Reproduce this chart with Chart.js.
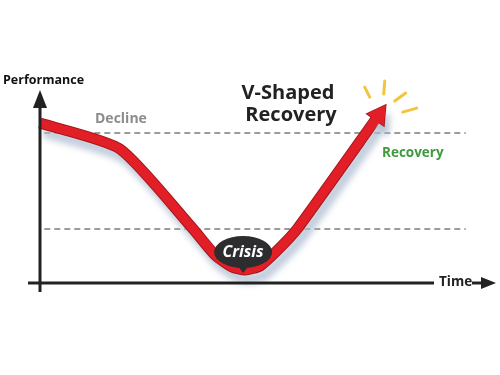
<!DOCTYPE html>
<html>
<head>
<meta charset="utf-8">
<title>V-Shaped Recovery</title>
<script src="https://cdn.jsdelivr.net/npm/chart.js@4"></script>
<style>
  html, body { margin: 0; padding: 0; background: #fff; }
  #wrap { width: 500px; height: 375px; }
</style>
</head>
<body>
<div id="wrap"><canvas id="chart" width="500" height="375"></canvas></div>
<script>
// performance over time (0-100 on both axes)
const timeValues = [0, 18.6, 35.6, 40.7, 44.7, 47.7, 51.2, 55.3, 59.8, 78.8];
const performance = [78.8, 66.0, 26.6, 13.8, 7.9, 6.4, 8.4, 16.3, 26.6, 82.8];
const referenceLevels = [73.9, 26.6];
const referenceSpan = [1, 99];
const crisisIndex = 5;

const lastIndex = performance.length - 1;
const curve = timeValues.map((t, i) => ({ x: t, y: performance[i] }));
const arrowAngle = 35;
const font = "'Open Sans', 'DejaVu Sans', sans-serif";

function refLine(level) {
    return {
        data: referenceSpan.map(x => ({ x: x, y: level })),
        borderColor: '#9c9c9c',
        borderWidth: 2,
        borderDash: [6, 4],
        pointRadius: 0,
        order: 3
    };
}

const shadowPlugin = {
    id: 'shadow',
    beforeDatasetDraw(chart, args) {
        if (args.index !== 1) return;
        const ctx = chart.ctx;
        ctx.save();
        ctx.shadowColor = 'rgba(175, 188, 208, 0.75)';
        ctx.shadowOffsetX = 4;
        ctx.shadowOffsetY = 9;
        ctx.shadowBlur = 6;
    },
    afterDatasetDraw(chart, args) {
        if (args.index !== 1) return;
        chart.ctx.restore();
    }
};

const decorPlugin = {
    id: 'decor',
    afterDatasetsDraw(chart) {
        const ctx = chart.ctx;
        const x = chart.scales.x, y = chart.scales.y;
        const x0 = x.getPixelForValue(0);
        const y0 = y.getPixelForValue(0);
        ctx.save();
        ctx.strokeStyle = '#222';
        ctx.fillStyle = '#222';
        ctx.lineWidth = 3;
        // y axis
        ctx.beginPath();
        ctx.moveTo(x0, y0 + 9);
        ctx.lineTo(x0, chart.chartArea.top + 24);
        ctx.stroke();
        ctx.beginPath();
        ctx.moveTo(x0, chart.chartArea.top + 10);
        ctx.lineTo(x0 - 7, chart.chartArea.top + 28);
        ctx.lineTo(x0 + 7, chart.chartArea.top + 28);
        ctx.closePath();
        ctx.fill();
        // x axis
        ctx.beginPath();
        ctx.moveTo(x0 - 12, y0);
        ctx.lineTo(434, y0);
        ctx.stroke();
        ctx.font = 'bold 13.5px ' + font;
        ctx.textBaseline = 'middle';
        ctx.textAlign = 'left';
        ctx.fillText('Time', 439, y0 - 1);
        ctx.beginPath();
        ctx.moveTo(472, y0);
        ctx.lineTo(484, y0);
        ctx.stroke();
        ctx.beginPath();
        ctx.moveTo(496, y0);
        ctx.lineTo(481, y0 - 6);
        ctx.lineTo(481, y0 + 6);
        ctx.closePath();
        ctx.fill();

        // crisis bubble at the lowest point
        const bx = x.getPixelForValue(timeValues[crisisIndex]) - 2;
        const by = y.getPixelForValue(performance[crisisIndex]) - 18;
        ctx.fillStyle = '#2d2d2f';
        ctx.beginPath();
        ctx.ellipse(bx, by, 29, 16, 0, 0, Math.PI * 2);
        ctx.fill();
        ctx.beginPath();
        ctx.moveTo(bx - 7, by + 12);
        ctx.lineTo(bx, by + 21);
        ctx.lineTo(bx + 7, by + 12);
        ctx.fill();
        ctx.fillStyle = '#fff';
        ctx.textAlign = 'center';
        ctx.font = 'italic bold 16px ' + font;
        ctx.fillText('Crisis', bx, by);

        // sparks round the arrow tip
        const r = Math.PI / 180 * arrowAngle;
        const tx = x.getPixelForValue(timeValues[lastIndex]) + 12 * Math.sin(r);
        const ty = y.getPixelForValue(performance[lastIndex]) - 12 * Math.cos(r);
        ctx.strokeStyle = '#f3c53f';
        ctx.lineWidth = 3;
        ctx.lineCap = 'round';
        [[-21, -18, -16, -8], [-1, -24, -2, -11], [9, -4, 20, -12], [17, 7, 31, 3]].forEach(s => {
            ctx.beginPath();
            ctx.moveTo(tx + s[0], ty + s[1]);
            ctx.lineTo(tx + s[2], ty + s[3]);
            ctx.stroke();
        });
        ctx.restore();
    },
    afterDraw(chart) {
        const ctx = chart.ctx;
        ctx.save();
        ctx.textBaseline = 'middle';
        ctx.textAlign = 'left';
        ctx.fillStyle = '#111';
        ctx.font = 'bold 12.5px ' + font;
        ctx.fillText('Performance', 3, 80);
        ctx.fillStyle = '#8c8c8c';
        ctx.font = 'bold 14px ' + font;
        ctx.fillText('Decline', 95, 119);
        ctx.fillStyle = '#3d9a3f';
        ctx.font = 'bold 13.5px ' + font;
        ctx.fillText('Recovery', 382, 153);
        ctx.fillStyle = '#222';
        ctx.textAlign = 'center';
        ctx.font = 'bold 20px ' + font;
        ctx.fillText('V-Shaped', 288, 93);
        ctx.fillText('Recovery', 291, 115);
        ctx.restore();
    }
};

new Chart(document.getElementById('chart'), {
    type: 'line',
    data: {
        datasets: [
            {
                data: curve,
                borderColor: '#e21f26',
                borderWidth: 9,
                borderJoinStyle: 'round',
                tension: 0.2,
                clip: false,
                pointStyle: 'triangle',
                pointRotation: arrowAngle,
                pointRadius: c => c.dataIndex === lastIndex ? 12 : 0,
                pointBackgroundColor: '#e21f26',
                pointBorderWidth: 0,
                order: 0
            },
            {
                data: curve,
                borderColor: '#a5161c',
                borderWidth: 11,
                borderJoinStyle: 'round',
                tension: 0.2,
                clip: false,
                pointStyle: 'triangle',
                pointRotation: arrowAngle,
                pointRadius: c => c.dataIndex === lastIndex ? 13.5 : 0,
                pointBackgroundColor: '#a5161c',
                pointBorderWidth: 0,
                order: 1
            },
            refLine(referenceLevels[0]),
            refLine(referenceLevels[1])
        ]
    },
    options: {
        responsive: false,
        animation: false,
        layout: { padding: { left: 40, right: 30, top: 80, bottom: 92 } },
        scales: {
            x: { type: 'linear', min: 0, max: 100, display: false },
            y: { min: 0, max: 100, display: false }
        },
        plugins: {
            legend: { display: false },
            tooltip: { enabled: false }
        }
    },
    plugins: [shadowPlugin, decorPlugin]
});
</script>
</body>
</html>
